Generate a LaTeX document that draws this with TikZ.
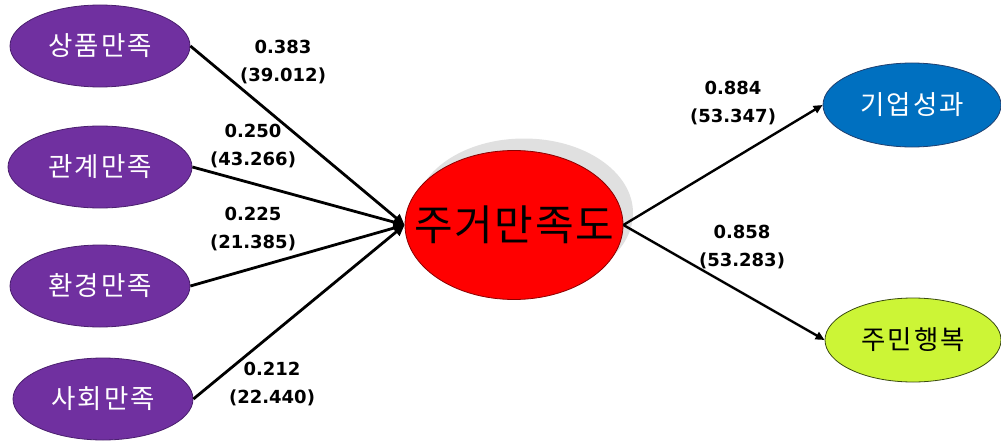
\documentclass[tikz,border=0pt]{standalone}
\usepackage{fontspec}
\newfontfamily\kr{Noto Sans CJK KR}[LetterSpace=8]
\newfontfamily\krbig{Noto Sans CJK KR}[LetterSpace=4]
\newfontfamily\numf{DejaVu Sans}
\usetikzlibrary{shapes.geometric,arrows.meta}
\definecolor{purp}{HTML}{7030A0}
\definecolor{purpdark}{HTML}{4A1F6E}
\definecolor{blueA}{HTML}{0070C0}
\definecolor{blueD}{HTML}{1F3F6F}
\definecolor{lime}{HTML}{CCF536}
\definecolor{limeD}{HTML}{3A4A10}
\definecolor{redD}{HTML}{8A0000}
\begin{document}
\begin{tikzpicture}[x=1pt,y=-1pt,
  oval/.style={ellipse, inner sep=0pt, line width=0.8pt, minimum width=180pt, minimum height=82pt,
    font=\kr\fontsize{26.5}{30}\selectfont},
  sat/.style={oval, fill=purp, draw=purpdark, text=white},
  lbl/.style={align=center, inner sep=0pt, font=\numf\bfseries\fontsize{18}{28}\selectfont},
  conn/.style={line width=2.8pt, -{Triangle[length=11pt,width=10pt]}},
  connr/.style={line width=2.4pt, -{Triangle[length=9pt,width=8pt]}},
]
\useasboundingbox (0,0) rectangle (1001,444);
\fill[white] (0,0) rectangle (1001,444);
% left ellipses
\node[sat] (s1) at (100,46) {상품만족};
\node[sat, minimum width=184pt] (s2) at (100,167) {관계만족};
\node[sat] (s3) at (100,286) {환경만족};
\node[sat] (s4) at (103,399) {사회만족};
% central
\node[ellipse, fill=black!12, minimum width=218pt, minimum height=149pt, inner sep=0pt] (shadow) at (524,213) {};
\node[ellipse, fill=red, draw=redD, line width=0.8pt, minimum width=218pt, minimum height=149pt, inner sep=0pt] (main) at (514,225) {};
\node[inner sep=0pt, font=\krbig\fontsize{42}{46}\selectfont] (maintext) at (main.center) {주거만족도};
% right ellipses
\node[oval, fill=blueA, draw=blueD, text=white, minimum width=178pt, minimum height=84pt] (r1) at (912,105) {기업성과};
\node[oval, fill=lime, draw=limeD, text=black, minimum width=176pt, minimum height=84pt] (r2) at (913,340) {주민행복};
% connectors
\draw[conn] (s1.east) -- (main.west);
\draw[conn] (s2.east) -- (main.west);
\draw[conn] (s3.east) -- (main.west);
\draw[conn] (s4.east) -- (main.west);
\draw[connr] (main.east) -- (r1.west);
\draw[connr] (main.east) -- (r2.west);
% labels
\node[lbl] (l1) at (283,62) {0.383\\(39.012)};
\node[lbl] (l2) at (253,146) {0.250\\(43.266)};
\node[lbl] (l3) at (253,229) {0.225\\(21.385)};
\node[lbl] (l4) at (272,384) {0.212\\(22.440)};
\node[lbl] (l5) at (733,103) {0.884\\(53.347)};
\node[lbl] (l6) at (742,247) {0.858\\(53.283)};
\end{tikzpicture}
\end{document}
